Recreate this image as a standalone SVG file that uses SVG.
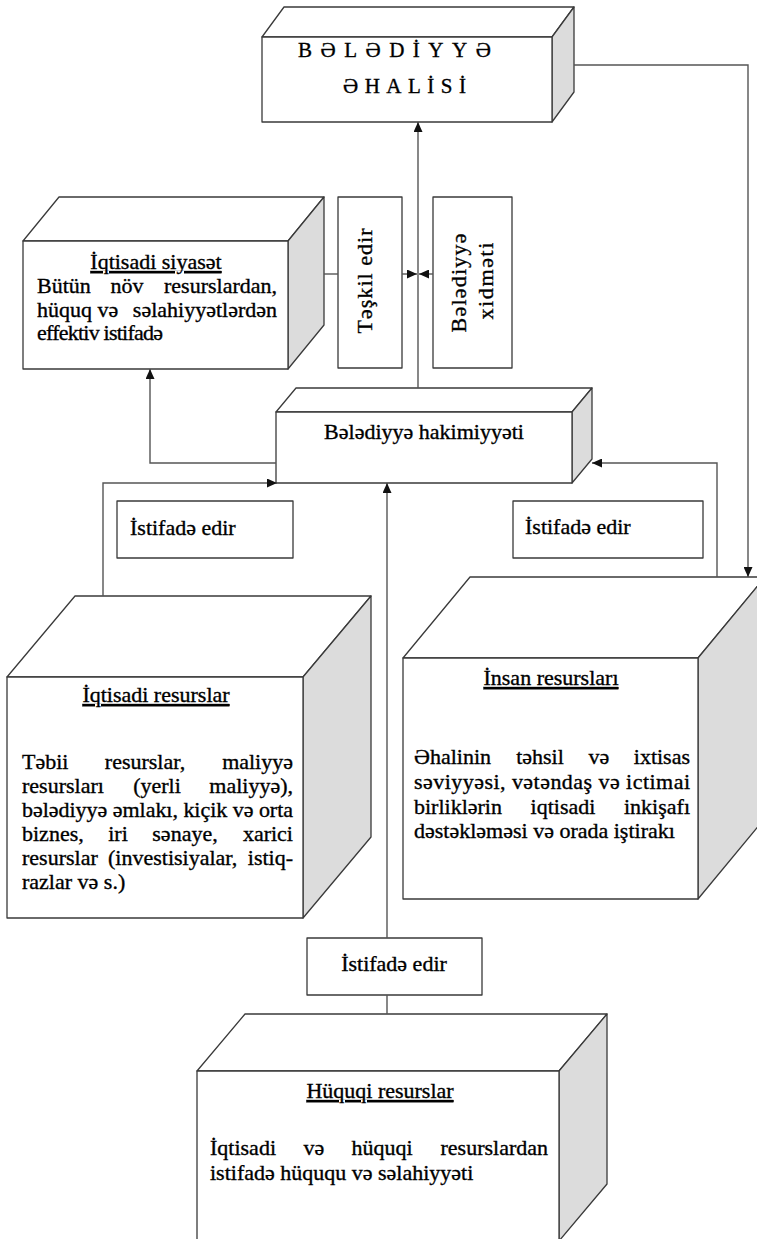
<svg xmlns="http://www.w3.org/2000/svg" width="757" height="1239" viewBox="0 0 757 1239">
  <style>
    .t { font-family: "Liberation Serif", "Times New Roman", serif; font-size: 22px; fill: #000; stroke: #000; stroke-width: 0.35px; }
    .h { font-size: 21px; }
    .m { text-anchor: middle; }
    .e { text-anchor: end; }
    .u { text-decoration: underline; }
    .face { fill: #fff; stroke: #3a3a3a; stroke-width: 1.3; stroke-linejoin: round; }
    .side { fill: #dcdcdc; stroke: #3a3a3a; stroke-width: 1.3; stroke-linejoin: round; }
    .conn { fill: none; stroke: #555; stroke-width: 1.4; }
  </style>
  <defs>
    <marker id="ah" viewBox="0 0 10 9" refX="10" refY="4.5" markerWidth="10" markerHeight="9" markerUnits="userSpaceOnUse" orient="auto">
      <path d="M0,0 L10,4.5 L0,9 z" fill="#111"/>
    </marker>
  </defs>

  <!-- population (top block) -->
  <g id="ahali">
    <polygon class="face" points="262,37 284,7 574,7 552,37"/>
    <polygon class="side" points="552,37 574,7 574,92 552,122"/>
    <rect class="face" x="262" y="37" width="290" height="85"/>
    <text class="t h" x="298" y="57" style="letter-spacing:8.5px">BƏLƏDİYYƏ</text>
    <text class="t h" x="343" y="93" style="letter-spacing:6.5px">ƏHALİSİ</text>
  </g>

  <!-- economic policy -->
  <g id="iqtisadi-siyaset">
    <polygon class="face" points="23,241 59,197 324,197 288,241"/>
    <polygon class="side" points="288,241 324,197 324,325 288,369"/>
    <rect class="face" x="23" y="241" width="265" height="128"/>
    <text class="t m u" x="156" y="269">İqtisadi siyasət</text>
    <text class="t" x="37" y="293">Bütün</text>
    <text class="t m" x="127" y="293">növ</text>
    <text class="t e" x="277" y="293">resurslardan,</text>
    <text class="t" x="37" y="317">hüquq</text>
    <text class="t m" x="108" y="317">və</text>
    <text class="t e" x="277" y="317">səlahiyyətlərdən</text>
    <text class="t" x="37" y="340" textLength="126" lengthAdjust="spacing">effektiv istifadə</text>
  </g>

  <!-- vertical labels -->
  <g id="teskil-edir">
    <rect class="face" x="338" y="197" width="64" height="171"/>
    <text class="t m" transform="translate(372,281) rotate(-90)" textLength="105" lengthAdjust="spacing">Təşkil edir</text>
  </g>
  <g id="beladiyye-xidmeti">
    <rect class="face" x="433" y="197" width="79" height="171"/>
    <text class="t m" transform="translate(466,283) rotate(-90)" textLength="99" lengthAdjust="spacing">Bələdiyyə</text>
    <text class="t m" transform="translate(493,281) rotate(-90)" textLength="77" lengthAdjust="spacing">xidməti</text>
  </g>

  <!-- municipal authority -->
  <g id="hakimiyyet">
    <polygon class="face" points="276,412 296,388 592,388 572,412"/>
    <polygon class="side" points="572,412 592,388 592,459 572,483"/>
    <rect class="face" x="276" y="412" width="296" height="71"/>
    <text class="t m" x="424" y="439">Bələdiyyə hakimiyyəti</text>
  </g>

  <!-- "uses" labels -->
  <g id="istifade-sol">
    <rect class="face" x="117" y="501" width="176" height="57"/>
    <text class="t" x="130" y="535">İstifadə edir</text>
  </g>
  <g id="istifade-sag">
    <rect class="face" x="513" y="501" width="190" height="57"/>
    <text class="t" x="525" y="534">İstifadə edir</text>
  </g>
  <g id="istifade-alt">
    <rect class="face" x="307" y="938" width="175" height="57"/>
    <text class="t m" x="394" y="971">İstifadə edir</text>
  </g>

  <!-- economic resources -->
  <g id="iqtisadi-resurslar">
    <polygon class="face" points="7,677 75,596 371,596 303,677"/>
    <polygon class="side" points="303,677 371,596 371,837 303,918"/>
    <rect class="face" x="7" y="677" width="296" height="241"/>
    <text class="t m u" x="156" y="702">İqtisadi resurslar</text>
    <text class="t" x="22" y="769">Təbii</text>
    <text class="t m" x="145" y="769">resurslar,</text>
    <text class="t e" x="293" y="769">maliyyə</text>
    <text class="t" x="22" y="793">resursları</text>
    <text class="t m" x="157" y="793">(yerli</text>
    <text class="t e" x="293" y="793">maliyyə),</text>
    <text class="t" x="22" y="817" textLength="271" lengthAdjust="spacing">bələdiyyə əmlakı, kiçik və orta</text>
    <text class="t" x="22" y="841">biznes,</text>
    <text class="t m" x="118" y="841">iri</text>
    <text class="t m" x="185" y="841">sənaye,</text>
    <text class="t e" x="293" y="841">xarici</text>
    <text class="t" x="22" y="865">resurslar</text>
    <text class="t" x="108" y="865">(investisiyalar,</text>
    <text class="t e" x="293" y="865">istiq-</text>
    <text class="t" x="22" y="889">razlar və s.)</text>
  </g>

  <!-- human resources -->
  <g id="insan-resurslari">
    <polygon class="face" points="403,658 470,577 765,577 698,658"/>
    <polygon class="side" points="698,658 765,577 765,818 698,899"/>
    <rect class="face" x="403" y="658" width="295" height="241"/>
    <text class="t m u" x="551" y="685">İnsan resursları</text>
    <text class="t" x="414" y="764">Əhalinin</text>
    <text class="t m" x="540" y="764">təhsil</text>
    <text class="t m" x="599" y="764">və</text>
    <text class="t e" x="690" y="764">ixtisas</text>
    <text class="t" x="414" y="789" textLength="276" lengthAdjust="spacing">səviyyəsi, vətəndaş və ictimai</text>
    <text class="t" x="414" y="814">birliklərin</text>
    <text class="t m" x="563" y="814">iqtisadi</text>
    <text class="t e" x="690" y="814">inkişafı</text>
    <text class="t" x="414" y="838">dəstəkləməsi və orada iştirakı</text>
  </g>

  <!-- legal resources -->
  <g id="huquqi-resurslar">
    <polygon class="face" points="197,1071 245,1014 607,1014 559,1071"/>
    <polygon class="side" points="559,1071 607,1014 607,1184 559,1241"/>
    <rect class="face" x="197" y="1071" width="362" height="170"/>
    <text class="t m u" x="380" y="1098">Hüquqi resurslar</text>
    <text class="t" x="210" y="1155">İqtisadi</text>
    <text class="t m" x="314" y="1155">və</text>
    <text class="t m" x="382" y="1155">hüquqi</text>
    <text class="t e" x="548" y="1155">resurslardan</text>
    <text class="t" x="210" y="1180">istifadə hüququ və səlahiyyəti</text>
  </g>

  <!-- connectors -->
  <g id="connectors">
    <path class="conn" d="M418,388 V122" marker-end="url(#ah)"/>
    <path class="conn" d="M574,65 H748 V577" marker-end="url(#ah)"/>
    <path class="conn" d="M324,274 H338"/>
    <path class="conn" d="M402,274 H417" marker-end="url(#ah)"/>
    <path class="conn" d="M433,274 H419" marker-end="url(#ah)"/>
    <path class="conn" d="M276,463 H150 V369" marker-end="url(#ah)"/>
    <path class="conn" d="M103,596 V483 H277" marker-end="url(#ah)"/>
    <path class="conn" d="M717,577 V463 H592" marker-end="url(#ah)"/>
    <path class="conn" d="M387,1014 V995"/>
    <path class="conn" d="M387,938 V483" marker-end="url(#ah)"/>
  </g>
</svg>
